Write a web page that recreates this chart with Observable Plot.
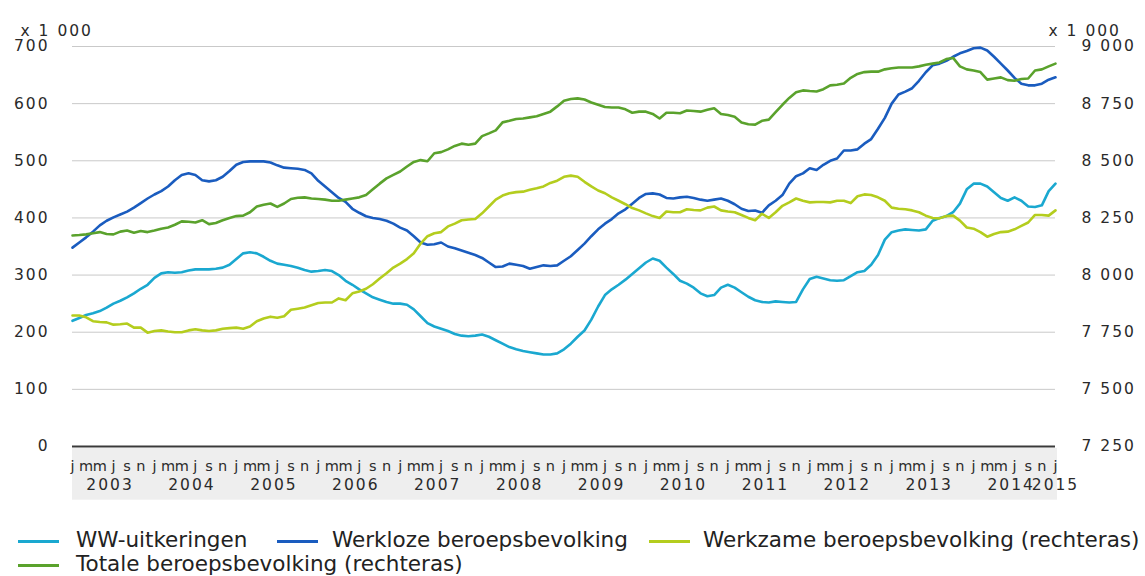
<!DOCTYPE html>
<html>
<head>
<meta charset="utf-8">
<script src="https://cdn.jsdelivr.net/npm/d3@7"></script>
<script src="https://cdn.jsdelivr.net/npm/@observablehq/plot@0.6"></script>
<style>
  html, body { margin: 0; padding: 0; background: #fff; }
  body { width: 1145px; height: 576px; overflow: hidden; position: relative; font-family: "DejaVu Sans", sans-serif; }
  #chart { position: absolute; left: 0; top: 0; }
  .lg { position: absolute; font-size: 21.5px; color: #222; white-space: nowrap; line-height: 1; }
  .sw { position: absolute; height: 2.5px; }
</style>
</head>
<body>
<div id="chart"></div>
<div id="legend"></div>
<script>
// ---- Data (x 1 000), monthly, Jan 2003 .. Jan 2015 ----
const startYear = 2003;
const monthLetters = ["j","f","m","a","m","j","j","a","s","o","n","d"];
const leftTicks = [0, 100, 200, 300, 400, 500, 600, 700];
const rightTicks = [7250, 7500, 7750, 8000, 8250, 8500, 8750, 9000];
const seriesNames = ["WW-uitkeringen", "Werkloze beroepsbevolking", "Werkzame beroepsbevolking (rechteras)", "Totale beroepsbevolking (rechteras)"];
const seriesColors = ["#1aa8d0", "#1a5cbf", "#b4cd1e", "#5aa22c"];

// WW-uitkeringen (left axis)
const wwUitkeringen = [
  220, 225, 230, 233, 237, 243, 250, 255, 261, 268, 276, 283,
  295, 303, 305, 304, 305, 308, 310, 310, 310, 311, 313, 318,
  328, 338, 340, 338, 332, 325, 320, 318, 316, 313, 309, 306,
  307, 309, 307, 300, 290, 283, 275, 268, 261, 257, 253, 250,
  250, 248, 240, 228, 216, 210, 206, 202, 197, 194, 193, 194,
  196, 192, 186, 180, 174, 170, 167, 165, 163, 161, 161, 163,
  170, 180, 192, 203, 222, 245, 265, 275, 283, 292, 302, 312,
  322, 329, 325, 313, 302, 290, 285, 278, 268, 263, 265, 278,
  283, 278, 270, 262, 256, 253, 252, 254, 253, 252, 253, 275,
  293, 297, 294, 291, 290, 291, 298, 305, 307, 318, 335, 362,
  375, 378, 380, 379, 378, 380, 395, 400, 403, 410, 425, 450,
  460, 460, 455, 445, 435, 430, 436, 430, 420, 419, 422, 447,
  460
];

// Werkloze beroepsbevolking (left axis)
const werkloze = [
  348, 357, 366, 376, 387, 395, 401, 406, 411, 418, 426, 434,
  441, 447, 455, 466, 475, 478, 475, 466, 464, 466, 472, 482,
  493, 498, 499, 499, 499, 497, 492, 488, 487, 486, 484, 478,
  465, 455, 445, 435, 428, 416, 409, 403, 400, 398, 395, 390,
  383, 378, 368, 357, 353, 354, 357, 350, 347, 343, 339, 335,
  330, 322, 314, 315, 320, 318, 316, 311, 314, 317, 316, 317,
  325, 333, 344, 355, 368, 380, 390, 398, 408, 415, 425, 435,
  442, 443, 441, 435, 434, 436, 437, 435, 432, 430, 432, 434,
  430, 424, 416, 412, 413, 409, 422, 430, 440, 460, 473, 478,
  487, 484, 493, 500, 504, 518, 518, 520, 530, 538, 556, 575,
  600, 616, 621, 627, 640, 655, 667, 670, 675, 682, 688, 692,
  697, 698, 693, 682, 670, 658, 645, 635, 632, 632, 635, 642,
  646
];

// Werkzame beroepsbevolking (right axis)
const werkzame = [
  7823, 7823, 7815, 7798, 7795, 7793, 7783, 7785, 7788, 7770, 7770, 7748,
  7755, 7758, 7753, 7750, 7750, 7758, 7763, 7758, 7755, 7758, 7765, 7768,
  7770, 7765, 7775, 7798, 7810, 7818, 7813, 7820, 7848, 7853, 7858, 7868,
  7878, 7880, 7880, 7898, 7890, 7920, 7928, 7940, 7960, 7985, 8008, 8033,
  8050, 8070, 8095, 8138, 8170, 8183, 8188, 8213, 8225, 8240, 8243, 8245,
  8270, 8300, 8330, 8348, 8358, 8363, 8365, 8373, 8380, 8388, 8403, 8413,
  8430, 8435, 8430, 8408, 8388, 8370, 8358, 8340, 8325, 8310, 8293, 8283,
  8270, 8258, 8250, 8278, 8275, 8275, 8288, 8285, 8283, 8295, 8300, 8283,
  8278, 8275, 8263, 8250, 8240, 8268, 8250, 8275, 8303, 8318, 8335, 8325,
  8318, 8320, 8320, 8318, 8325, 8325, 8315, 8345, 8353, 8350, 8340, 8325,
  8295, 8290, 8288, 8283, 8275, 8260, 8250, 8248, 8258, 8260, 8238, 8208,
  8203, 8188, 8168, 8180, 8188, 8190, 8200, 8215, 8230, 8263, 8263, 8260,
  8283
];

// Totale beroepsbevolking (right axis)
const totale = [
  8173, 8175, 8178, 8183, 8188, 8180, 8178, 8190, 8195, 8185, 8193, 8188,
  8195, 8203, 8208, 8220, 8235, 8233, 8230, 8240, 8223, 8228, 8240, 8250,
  8258, 8260, 8275, 8300, 8308, 8313, 8298, 8313, 8333, 8338, 8340, 8335,
  8333, 8330, 8325, 8325, 8330, 8335, 8340, 8350, 8375, 8400, 8423, 8438,
  8453, 8475, 8495, 8503, 8498, 8533, 8538, 8550, 8565, 8575, 8570, 8575,
  8608, 8620, 8633, 8668, 8675, 8683, 8685, 8690, 8695, 8705, 8715, 8738,
  8763, 8770, 8773, 8768, 8755, 8745, 8735, 8733, 8733, 8725, 8710, 8715,
  8715, 8705, 8685, 8710, 8710, 8708, 8720, 8718, 8715, 8723, 8730, 8705,
  8700, 8693, 8668, 8660, 8658, 8675, 8680, 8713, 8745, 8775, 8800, 8808,
  8805, 8803, 8813, 8830, 8833, 8838, 8863, 8880, 8888, 8890, 8890, 8900,
  8905, 8908, 8908, 8908, 8913, 8920, 8925, 8930, 8945, 8950, 8913, 8900,
  8895, 8888, 8855, 8860, 8865, 8853, 8850, 8858, 8860, 8895, 8900, 8913,
  8925
];

// ---- Build ----
const N = wwUitkeringen.length;
const rightBase = rightTicks[0];
const rightStep = (rightTicks[rightTicks.length - 1] - rightTicks[0]) / (leftTicks[leftTicks.length - 1] - leftTicks[0]);
const toLeft = (r) => (r - rightBase) / rightStep;

const rows = [];
[[wwUitkeringen, false], [werkloze, false], [werkzame, true], [totale, true]].forEach(([arr, right], k) => {
  arr.forEach((v, i) => rows.push({ i, name: seriesNames[k], v: right ? toLeft(v) : v }));
});

const monthTicks = d3.range(0, N, 2);
const yearList = d3.range(startYear, startYear + Math.ceil(N / 12));
const yearTicks = yearList.map((y, k) => Math.min((k * 12 + Math.min(k * 12 + 11, N - 1)) / 2, N - 1));
const fmtSpace = (v) => d3.format(",")(v).replace(/,/g, " ");

const plot = Plot.plot({
  width: 1145,
  height: 512,
  marginTop: 46,
  marginBottom: 66,
  marginLeft: 72,
  marginRight: 90,
  style: { fontFamily: "DejaVu Sans, sans-serif", fontSize: "15px", color: "#2a2a2a", background: "transparent", overflow: "visible" },
  x: { domain: [0, N - 1], axis: null },
  y: { domain: [leftTicks[0], leftTicks[leftTicks.length - 1]], axis: null },
  color: { domain: seriesNames, range: seriesColors },
  marks: [
    Plot.rect([0], { x1: 0, x2: N - 1 + 0.3, y1: -3.5, y2: -94, fill: "#eeeeee" }),
    Plot.gridY(leftTicks.slice(1), { stroke: "#c9c9c9", strokeOpacity: 1, strokeWidth: 1 }),
    Plot.axisY({ ticks: leftTicks, anchor: "left", tickSize: 0, tickPadding: 23, label: null, fontSize: 15.5 }),
    Plot.axisY({ ticks: leftTicks, anchor: "right", tickSize: 0, tickPadding: 26, label: null, fontSize: 15.5,
                 tickFormat: (v) => fmtSpace(rightBase + v * rightStep) }),
    Plot.axisX({ ticks: monthTicks, tickFormat: (i) => monthLetters[i % 12], tickSize: 0, tickPadding: 14, label: null, fontSize: 14.5 }),
    Plot.axisX({ ticks: yearTicks, tickFormat: (t, k) => String(yearList[k]), tickSize: 0, tickPadding: 32, label: null, fontSize: 15.5 }),
    Plot.ruleY([0], { stroke: "#3a3a3a", strokeWidth: 2 }),
    Plot.line(rows, { x: "i", y: "v", z: "name", stroke: "name", strokeWidth: 2.6, strokeLinejoin: "round", strokeLinecap: "round" }),
    Plot.text(["x 1 000"], { frameAnchor: "top-left", dx: -52, dy: -22, textAnchor: "start", fontSize: 15.5 }),
    Plot.text(["x 1 000"], { frameAnchor: "top-right", dx: -7, dy: -22, textAnchor: "start", fontSize: 15.5 })
  ]
});

// widen the axis lettering a little, like the reference
const sel = d3.select(plot);
sel.selectAll('g[aria-label="y-axis tick label"]').attr("letter-spacing", "2px");
const xLabelGroups = sel.selectAll('g[aria-label="x-axis tick label"]').nodes();
if (xLabelGroups.length) d3.select(xLabelGroups[xLabelGroups.length - 1]).attr("letter-spacing", "2px");
sel.selectAll('g[aria-label="text"]').attr("letter-spacing", "2px");

document.getElementById("chart").appendChild(plot);

// ---- Legend ----
const legendItems = [
  { k: 0, sx: 18, tx: 76, y: 541 },
  { k: 1, sx: 277, tx: 332, y: 541 },
  { k: 2, sx: 649, tx: 703, y: 541 },
  { k: 3, sx: 18, tx: 76, y: 565 }
];
const lg = document.getElementById("legend");
legendItems.forEach(({ k, sx, tx, y }) => {
  const sw = document.createElement("div");
  sw.className = "sw";
  sw.style.left = sx + "px";
  sw.style.width = "41px";
  sw.style.top = (y - 1) + "px";
  sw.style.background = seriesColors[k];
  lg.appendChild(sw);
  const t = document.createElement("div");
  t.className = "lg";
  t.style.left = tx + "px";
  t.style.top = (y - 12) + "px";
  t.textContent = seriesNames[k];
  lg.appendChild(t);
});
</script>
</body>
</html>
